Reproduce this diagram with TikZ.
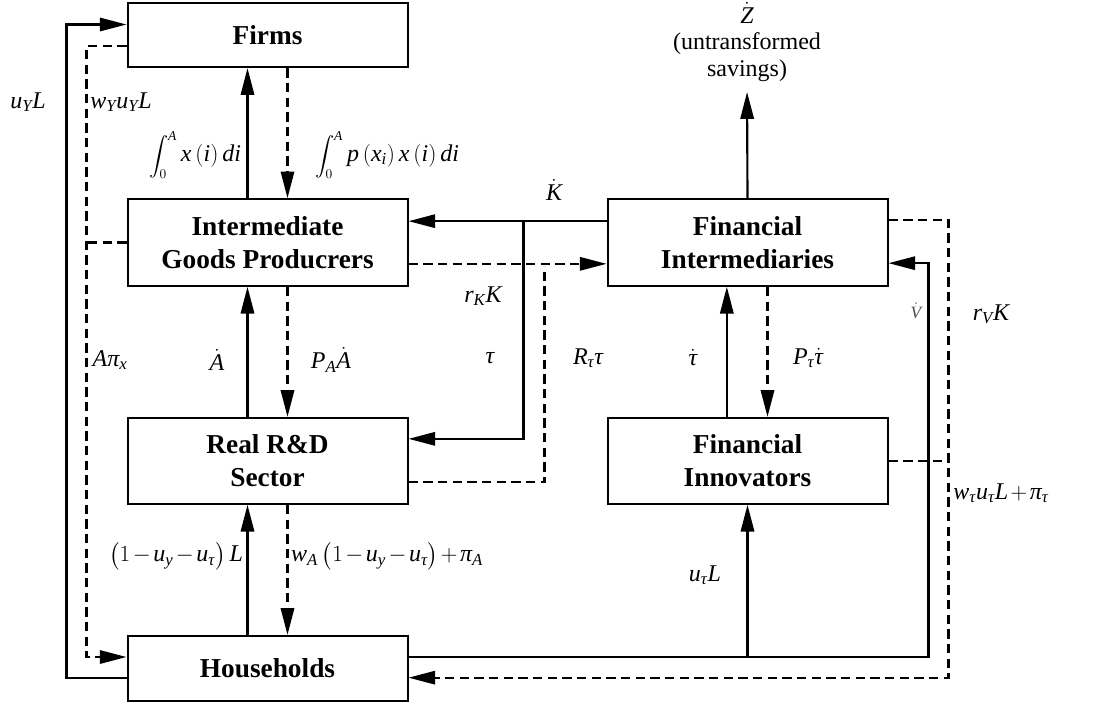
\documentclass[tikz,border=0pt]{standalone}
\usepackage{amsmath}
\usepackage{fontspec}
\setmainfont{Liberation Serif}
% math letters in the serif italic
\DeclareSymbolFont{letters}{TU}{\rmdefault}{m}{it}
\Umathchardef\tau="7 \symletters "03C4
\Umathchardef\pi="7 \symletters "03C0
\medmuskip=2mu plus 1mu minus 1mu
\thickmuskip=3mu plus 1mu
\newcommand{\bigint}{{\fontsize{14.5}{16}\selectfont$\displaystyle\int_0^A$}}
\usepackage{tikz}
\usetikzlibrary{positioning, arrows.meta, calc}

\begin{document}
\begin{tikzpicture}[
		x=0.75pt, y=-0.75pt,
		line width=1.6pt,
		>={Triangle[length=20pt,width=10pt]},
		% Style for the sectors (boxes)
		sector/.style={
			rectangle,
			draw,
			line width=1.5pt,
			minimum width=210pt,
			inner sep=0pt,
			align=center,
			font=\fontsize{20.5}{25}\selectfont\bfseries
		},
		% Style for real flows (solid)
		flow/.style={->},
		% Style for payments (dashed)
		pay/.style={dash pattern=on 7pt off 4pt},
		% Style for the flow labels
		lbl/.style={
			font=\fontsize{18}{20}\selectfont,
			inner sep=0pt
		}
	]
	\useasboundingbox (0,0) rectangle (1120,704);
	
	% --- SECTORS ---
	\node[sector, minimum height=65pt] (igp) at (267.5,242.5) {Intermediate\\Goods Producrers};
	\node[sector, minimum height=48pt, above=97.5pt of igp] (firms) {Firms};
	\node[sector, minimum height=64.5pt, below=97.5pt of igp] (rd) {Real R\&D\\Sector};
	\node[sector, minimum height=48.75pt, below=97.5pt of rd] (hh) {Households};
	\node[sector, minimum height=65pt, right=148.5pt of igp] (fi) {Financial\\Intermediaries};
	\node[sector, minimum height=64.5pt, below=97.5pt of fi] (finn) {Financial\\Innovators};
	
	% untransformed savings
	\node[lbl, align=center] (zdot) at (747,42) {$\dot{Z}$\\(untransformed\\savings)};
	
	% --- LABELS ---
	\node[lbl] (uyl) at (28,102) {$u_Y L$};
	\node[lbl] (wyl) at (121,102) {$w_Y u_Y L$};
	\node[lbl] (intx) at (195,155) {\bigint$\,x\left(i\right)di$};
	\node[lbl] (intpx) at (387,155) {\bigint$\,p\left(x_i\right)x\left(i\right)di$};
	\node[lbl] (kdot) at (554,190) {$\dot{K}$};
	\node[lbl] (rkk) at (483,296) {$r_K K$};
	\node[lbl] (tau) at (490,358) {$\tau$};
	\node[lbl] (rtau) at (588,358) {$R_\tau\tau$};
	\node[lbl] (api) at (110,360) {$A\pi_x$};
	\node[lbl] (adot) at (217,360) {$\dot{A}$};
	\node[lbl] (paadot) at (331,360) {$P_A\dot{A}$};
	\node[lbl] (taudot) at (693,358) {$\dot{\tau}$};
	\node[lbl] (ptau) at (808,358) {$P_\tau\dot{\tau}$};
	\node[lbl, font=\fontsize{13}{15}\selectfont, text=black!70] (vdot) at (916,311) {$\dot{V}$};
	\node[lbl] (rvk) at (991,314) {$r_V K$};
	\node[lbl] (labrd) at (176,556) {$\left(1-u_y-u_\tau\right)L$};
	\node[lbl] (wages) at (387,556) {$w_A\left(1-u_y-u_\tau\right)+\pi_A$};
	\node[lbl] (wtau) at (1001,493) {$w_\tau u_\tau L+\pi_\tau$};
	\node[lbl] (utl) at (705,575) {$u_\tau L$};
	
	% --- FLOWS BETWEEN SECTORS ---
	
	% Firms <-> Intermediate goods
	\draw[flow] ([xshift=-15pt]igp.north) -- ([xshift=-15pt]firms.south);
	\draw[pay, ->] ([xshift=15pt]firms.south) -- ([xshift=15pt]igp.north);
	
	% Intermediate goods <-> R&D
	\draw[flow] ([xshift=-15pt]rd.north) -- ([xshift=-15pt]igp.south);
	\draw[pay, ->] ([xshift=15pt]igp.south) -- ([xshift=15pt]rd.north);
	
	% R&D <-> Households
	\draw[flow] ([xshift=-15pt]hh.north) -- ([xshift=-15pt]rd.south);
	\draw[pay, ->] ([xshift=15pt]rd.south) -- ([xshift=15pt]hh.north);
	
	% Financial intermediaries <-> innovators
	\draw[flow] ([xshift=-15.5pt]finn.north) -- ([xshift=-15.5pt]fi.south);
	\draw[pay, ->] ([xshift=15pt]fi.south) -- ([xshift=15pt]finn.north);
	
	% Savings leaving the system
	\draw[flow, shorten >=7pt] (fi.north) -- (zdot.south);
	
	% Labour to firms, wages back (left loop)
	\draw[flow] ([yshift=-7pt]hh.west) -- ++(-60,0) |- ([yshift=8pt]firms.west);
	\draw[pay, ->] ([yshift=-8pt]firms.west) -- ++(-40,0) |- ([yshift=8.5pt]hh.west);
	\draw[pay] (igp.west) -- ++(-40,0);
	
	% Capital from financial intermediaries
	\draw[flow] ([yshift=16pt]fi.west) -- ([yshift=16pt]igp.east);
	\draw[flow] ([yshift=16pt]igp.east) ++(115,0) |- ([yshift=16.5pt]rd.east);
	
	% Returns paid to financial intermediaries
	\draw[pay, ->] ([yshift=-16pt]igp.east) -- ([yshift=-16pt]fi.west);
	\draw[pay] ([yshift=-16pt]rd.east) -- ++(136,0) -- ++(0,-216);
	
	% Households to the financial side (right loop)
	\coordinate (hhout) at ([yshift=8.5pt]hh.east);
	\draw[flow] (hhout) -- ++(520,0) |- ([yshift=-15.5pt]fi.east);
	\draw[flow] (finn.south |- hhout) -- (finn.south);
	\draw[pay, ->] ([yshift=17pt]fi.east) -- ++(60,0) |- ([yshift=-7pt]hh.east);
	\draw[pay] (finn.east) -- ++(60,0);
	
\end{tikzpicture}
\end{document}
